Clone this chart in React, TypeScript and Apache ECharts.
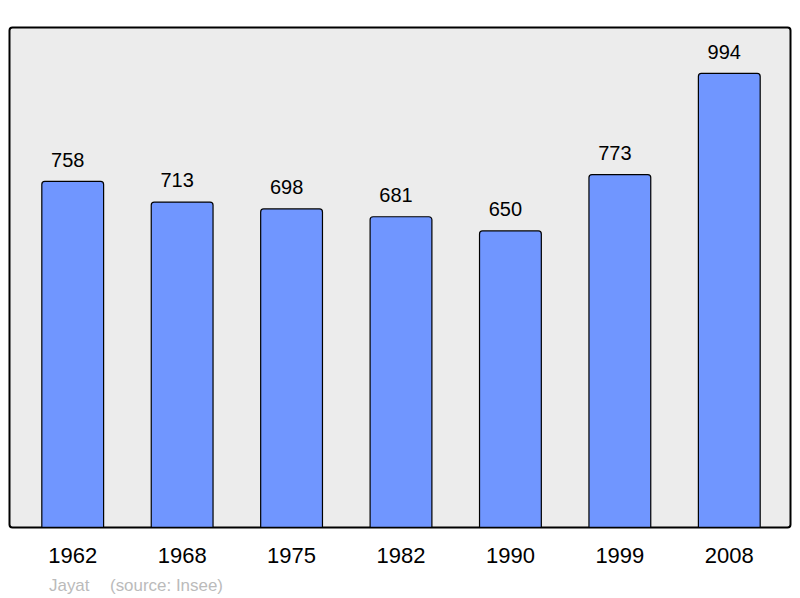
import React, { useEffect, useRef } from "react";
import * as echarts from "echarts";

const years = ["1962", "1968", "1975", "1982", "1990", "1999", "2008"];
const population = [758, 713, 698, 681, 650, 773, 994];
const footerAuthor = "Jayat";
const footerSource = "(source: Insee)";

export default function App() {
  const ref = useRef<HTMLDivElement>(null);
  useEffect(() => {
    const chart = echarts.init(ref.current!, null, { renderer: "svg" });
    chart.setOption({
      animation: false,
      backgroundColor: "#ffffff",
      graphic: [
        {
          type: "rect",
          z: -1,
          shape: { x: 9.5, y: 27.5, width: 781, height: 500, r: 3 },
          style: { fill: "#ececec", stroke: "#000", lineWidth: 2 },
          silent: true,
        },
        {
          type: "text",
          x: 49,
          y: 585,
          scaleX: 1.06,
          style: {
            text: footerAuthor,
            fill: "#bbbbbb",
            font: "16px 'Liberation Sans', Arial, sans-serif",
            verticalAlign: "middle",
          },
        },
        {
          type: "text",
          x: 110,
          y: 585,
          scaleX: 1.06,
          style: {
            text: footerSource,
            fill: "#bbbbbb",
            font: "16px 'Liberation Sans', Arial, sans-serif",
            verticalAlign: "middle",
          },
        },
      ],
      grid: { left: 18, right: 16, top: 27, bottom: 70, containLabel: false },
      xAxis: {
        type: "category",
        data: years,
        axisLine: { show: false },
        axisTick: { show: false },
        axisLabel: {
          color: "#000",
          fontSize: 22,
          fontFamily: "'Liberation Sans', Arial, sans-serif",
          margin: 16,
        },
      },
      yAxis: {
        type: "value",
        min: 0,
        max: 1094,
        show: false,
        splitLine: { show: false },
      },
      series: [
        {
          type: "bar",
          data: population,
          barWidth: 63,
          itemStyle: {
            color: "#7096ff",
            borderColor: "#000",
            borderWidth: 1.2,
            borderRadius: [3, 3, 0, 0],
          },
          label: {
            show: true,
            position: "top",
            distance: 11,
            offset: [-5, 0],
            color: "#000",
            fontSize: 20,
            fontFamily: "'Liberation Sans', Arial, sans-serif",
          },
        },
      ],
    });
    return () => chart.dispose();
  }, []);
  return <div ref={ref} style={{ width: 800, height: 598, position: "absolute", left: 0, top: 0 }} />;
}
